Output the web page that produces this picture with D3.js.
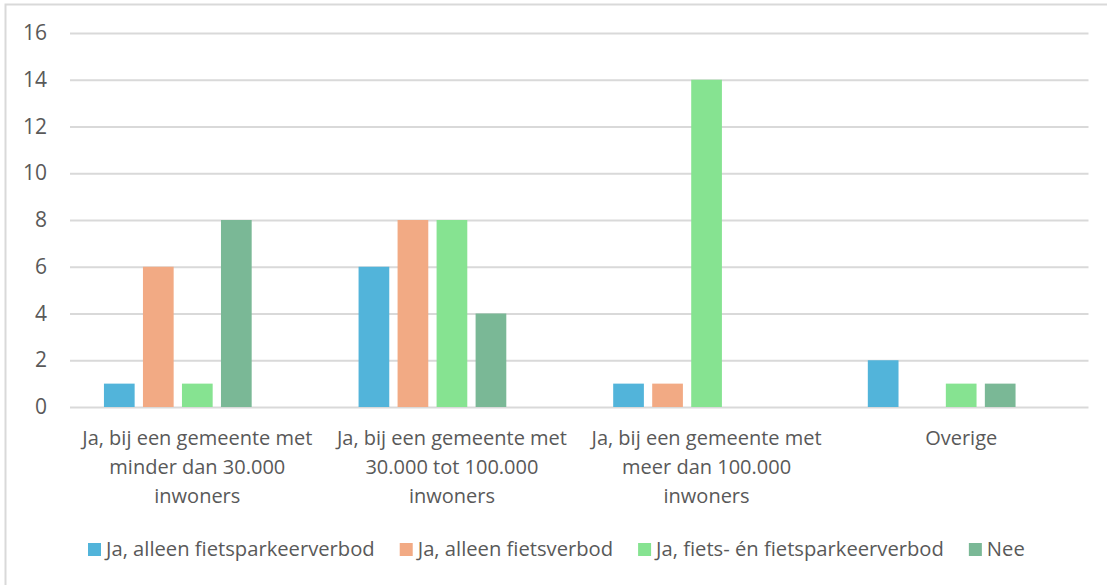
<!DOCTYPE html>
<html><head><meta charset="utf-8">
<script src="https://cdn.jsdelivr.net/npm/d3@7"></script>
<style>body{margin:0;background:#fff}svg{display:block}text{font-family:"Open Sans",sans-serif;fill:#595959}</style>
</head><body><svg id="c" width="1107" height="585"></svg>
<script>
const categories = [
  ["Ja, bij een gemeente met","minder dan 30.000","inwoners"],
  ["Ja, bij een gemeente met","30.000 tot 100.000","inwoners"],
  ["Ja, bij een gemeente met","meer dan 100.000","inwoners"],
  ["Overige"]
];
const seriesNames = ["Ja, alleen fietsparkeerverbod","Ja, alleen fietsverbod","Ja, fiets- én fietsparkeerverbod","Nee"];
const seriesColors = ["#52B4DA","#F2AA84","#86E391","#7AB896"];
const valsFietsparkeer = [1,6,1,2];
const valsFiets = [6,8,1,0];
const valsBeide = [1,8,14,1];
const valsNee = [8,4,0,1];
const yTicks = [0,2,4,6,8,10,12,14,16];

const series = [valsFietsparkeer, valsFiets, valsBeide, valsNee];
const svg = d3.select("#c");
const W = 1107, H = 585;
const m = {l:70, r:1088.5, t:33, b:407};

// outer frame (top and left visible)
svg.append("rect").attr("x",5.5).attr("y",4.5).attr("width",W+10).attr("height",H+10)
  .attr("fill","none").attr("stroke","#D9D9D9").attr("stroke-width",2);

const y = d3.scaleLinear().domain([0,16]).range([m.b,m.t]);
const x0 = d3.scaleBand().domain(d3.range(categories.length)).range([m.l,m.r]).padding(0);
const x1 = d3.scaleBand().domain(d3.range(5)).range([0,x0.bandwidth()]).paddingInner(0.213).paddingOuter(0.87);

const yAxis = d3.axisLeft(y).tickValues(yTicks).tickSize(-(m.r-m.l)).tickPadding(23);
const gy = svg.append("g").attr("transform",`translate(${m.l},0)`).call(yAxis);
gy.select(".domain").remove();
gy.selectAll(".tick line").attr("stroke","#D9D9D9").attr("stroke-width",2);
gy.selectAll(".tick text").attr("font-size",21).attr("fill","#595959").style("font-family","'Open Sans',sans-serif");

const g = svg.append("g");
series.forEach((vals,si)=>{
  g.selectAll(".b"+si).data(vals).join("rect")
    .attr("x",(d,i)=>x0(i)+x1(si))
    .attr("width",x1.bandwidth())
    .attr("y",d=>y(d))
    .attr("height",d=>y(0)-y(d))
    .attr("fill",seriesColors[si]);
});

// category labels
categories.forEach((lines,i)=>{
  const cx = x0(i)+x0.bandwidth()/2;
  const t = svg.append("text").attr("text-anchor","middle").attr("font-size",20)
    .attr("x",cx).attr("y",445);
  lines.forEach((ln,j)=>t.append("tspan").attr("x",cx).attr("dy",j?29:0).text(ln));
});

// legend
const lg = svg.append("g");
let lx = 88;
seriesNames.forEach((n,i)=>{
  lg.append("rect").attr("x",lx).attr("y",543).attr("width",13).attr("height",13).attr("fill",seriesColors[i]);
  const t = lg.append("text").attr("x",lx+18).attr("y",556).attr("font-size",20.2).text(n);
  lx += 18 + t.node().getComputedTextLength() + 25;
});
</script></body></html>
